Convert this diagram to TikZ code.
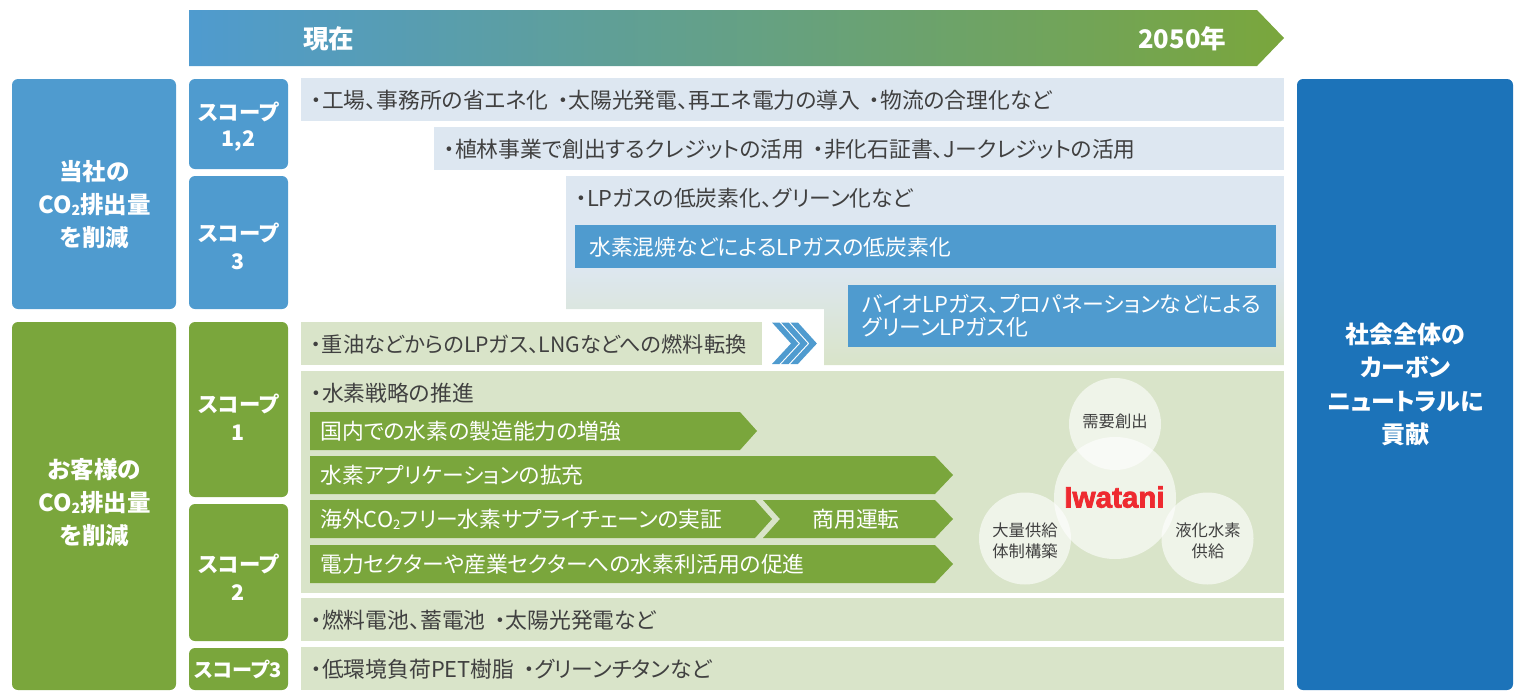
\documentclass[tikz,border=0pt]{standalone}
\usepackage{fontspec}
\setmainfont{Noto Sans CJK JP}[RawFeature=+palt]
\newfontfamily\logofont{Liberation Sans}[BoldFeatures={FakeBold=2.5}]
\usetikzlibrary{shapes.geometric}
\definecolor{sky}{HTML}{4F9BCF}
\definecolor{deep}{HTML}{1C73B9}
\definecolor{leaf}{HTML}{7AA63C}
\definecolor{paleblue}{HTML}{DDE7F1}
\definecolor{palegreen}{HTML}{D9E4C9}
\definecolor{ink}{HTML}{404040}
\definecolor{logored}{HTML}{EE2A30}
\newcommand{\subtwo}{\raisebox{-.08em}{\fontsize{.6em}{.6em}\selectfont 2}}
\newcommand{\gap}{\hspace{.42em}}
\tikzset{
  bandtext/.style={anchor=west,inner sep=0pt,text=ink,font=\fontsize{21.8}{26}\selectfont},
  whitetext/.style={anchor=west,inner sep=0pt,text=white,font=\fontsize{21.8}{26}\selectfont},
  arrowtext/.style={anchor=west,inner sep=0pt,text=white,font=\fontsize{21.8}{26}\selectfont},
  headtext/.style={inner sep=0pt,text=white,font=\fontsize{25.6}{30}\selectfont\bfseries},
  sidelabel/.style={inner sep=0pt,text=white,align=center,font=\fontsize{23.5}{33}\selectfont\bfseries},
  scopelabel/.style={inner sep=0pt,text=white,align=center,font=\fontsize{21.4}{28}\selectfont\bfseries},
  circtext/.style={inner sep=0pt,text=ink,align=center,font=\fontsize{16.3}{21.5}\selectfont},
  softcircle/.style={fill=white,fill opacity=.6,draw=none},
}
\begin{document}
\begin{tikzpicture}[x=1pt,y=-1pt]
\useasboundingbox (0,0) rectangle (1529,697);
% header arrow
\path[left color=sky,right color=leaf] (189,10) -- (1257,10) -- (1284,38) -- (1257,66) -- (189,66) -- cycle;
\node[headtext,anchor=west] (now) at (303,38.5) {現在};
\node[headtext,anchor=east] (future) at (1226.5,38.5) {2050年};
% left blocks
\fill[sky,rounded corners=6pt] (12,79) rectangle (176,309);
\fill[leaf,rounded corners=6pt] (12,322) rectangle (176,690);
\node[sidelabel] (own) at (94.5,204.5) {当社の\\CO\subtwo{}排出量\\を削減};
\node[sidelabel] (cust) at (94.5,502.5) {お客様の\\CO\subtwo{}排出量\\を削減};
% scope blocks
\fill[sky,rounded corners=6pt] (189,79) rectangle (288,169);
\fill[sky,rounded corners=6pt] (189,176) rectangle (288,309);
\fill[leaf,rounded corners=6pt] (189,322) rectangle (288,497);
\fill[leaf,rounded corners=6pt] (189,504) rectangle (288,641);
\fill[leaf,rounded corners=6pt] (189,648) rectangle (288,690);
\node[scopelabel,font=\fontsize{21.4}{26}\selectfont\bfseries] (s1a) at (238.5,126.5) {スコープ\\1,2};
\node[scopelabel] (s3a) at (238.5,246) {スコープ\\3};
\node[scopelabel] (s1b) at (238.5,417) {スコープ\\1};
\node[scopelabel] (s2b) at (238.5,577) {スコープ\\2};
\node[scopelabel,font=\fontsize{20.1}{24}\selectfont\bfseries] (s3b) at (238,669) {スコープ3};
% right block
\fill[deep,rounded corners=6pt] (1297,79) rectangle (1513,690);
\node[sidelabel,font=\fontsize{24}{33.5}\selectfont\bfseries] (goal) at (1405.5,384.5) {社会全体の\\カーボン\\ニュートラルに\\貢献};
% bands
\fill[paleblue] (301,78) rectangle (1284,121);
\fill[paleblue] (434,127) rectangle (1284,170);
\begin{scope}
  \clip (566,176) -- (1284,176) -- (1284,365) -- (824,365) -- (824,309) -- (566,309) -- cycle;
  \fill[paleblue] (566,176) rectangle (1284,265);
  \path[top color=paleblue,bottom color=palegreen] (566,265) rectangle (1284,365);
\end{scope}
\fill[palegreen] (301,322) rectangle (762,365);
\fill[palegreen] (301,371) rectangle (1284,593);
\fill[palegreen] (301,598) rectangle (1284,641);
\fill[palegreen] (301,647) rectangle (1284,690);
\node[bandtext] (t1) at (311,100.5) {・工場、事務所の省エネ化\gap・太陽光発電、再エネ電力の導入\gap・物流の合理化など};
\node[bandtext] (t2) at (444,149) {・植林事業で創出するクレジットの活用\gap・非化石証書、Jークレジットの活用};
\node[bandtext] (t3) at (576,198) {・LPガスの低炭素化、グリーン化など};
\node[bandtext,font=\fontsize{21.2}{26}\selectfont] (t4) at (311,344) {・重油などからのLPガス、LNGなどへの燃料転換};
\node[bandtext] (t5) at (311,393) {・水素戦略の推進};
\node[bandtext] (t6) at (311,620) {・燃料電池、蓄電池\gap・太陽光発電など};
\node[bandtext] (t7) at (311,669) {・低環境負荷PET樹脂\gap・グリーンチタンなど};
% blue boxes
\fill[sky] (575,225) rectangle (1276,268);
\fill[sky] (848,285) rectangle (1276,347);
\node[whitetext] (b1) at (589,247) {水素混焼などによるLPガスの低炭素化};
\node[whitetext,align=left,font=\fontsize{21.9}{23}\selectfont] (b2) at (862,316) {バイオLPガス、プロパネーションなどによる\\グリーンLPガス化};
% chevrons
\foreach \i in {0,1,2}{
  \fill[sky] ({772+9.2*\i},322.5) -- ({779.5+9.2*\i},322.5) -- ({798.5+9.2*\i},343.5) -- ({779.5+9.2*\i},364) -- ({772+9.2*\i},364) -- ({791+9.2*\i},343.5) -- cycle;
}
% green arrows
\fill[leaf] (310,412) -- (740,412) -- (757,431) -- (740,450) -- (310,450) -- cycle;
\fill[leaf] (310,456) -- (935,456) -- (953,475) -- (935,494) -- (310,494) -- cycle;
\fill[leaf] (310,500) -- (755,500) -- (772,519) -- (755,538) -- (310,538) -- cycle;
\fill[leaf] (763,500) -- (935,500) -- (953,519) -- (935,538) -- (763,538) -- (780,519) -- cycle;
\fill[leaf] (310,545) -- (935,545) -- (953,564) -- (935,583) -- (310,583) -- cycle;
\node[arrowtext] (a1) at (320,431.5) {国内での水素の製造能力の増強};
\node[arrowtext] (a2) at (320,475.5) {水素アプリケーションの拡充};
\node[arrowtext] (a3) at (320,519.5) {海外CO\subtwo{}フリー水素サプライチェーンの実証};
\node[arrowtext,anchor=center] (a3b) at (856,519.5) {商用運転};
\node[arrowtext] (a4) at (320,564.5) {電力セクターや産業セクターへの水素利活用の促進};
% circles
\fill[softcircle] (1115,424) circle (46);
\fill[softcircle] (1025,538.5) circle (46);
\fill[softcircle] (1207.5,538.5) circle (46);
\fill[softcircle] (1115,498) circle (61);
\node[circtext] (c1) at (1115,421) {需要創出};
\node[circtext] (c2) at (1025,541) {大量供給\\体制構築};
\node[circtext] (c3) at (1208,541) {液化水素\\供給};
\node[inner sep=0pt,text=logored,font=\fontsize{29.6}{30}\selectfont\logofont\bfseries] (logo) at (1114.5,497) {Iwatani};
\end{tikzpicture}
\end{document}
